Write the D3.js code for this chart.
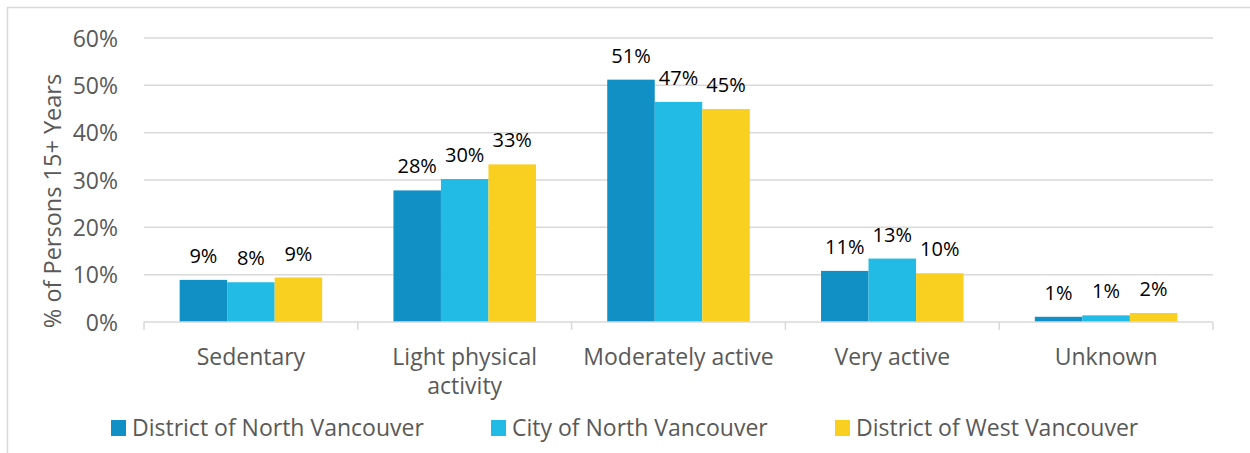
<!DOCTYPE html>
<html>
<head>
<meta charset="utf-8">
<script src="https://cdn.jsdelivr.net/npm/d3@7"></script>
<style>
  html, body { margin: 0; padding: 0; background: #fff; }
  svg { display: block; }
  text { font-family: "Open Sans", Lato, sans-serif; }
</style>
</head>
<body>
<svg id="chart" width="1250" height="453"></svg>
<script>
// Physical activity levels, share of persons aged 15+
const categories = ["Sedentary", "Light physical activity", "Moderately active", "Very active", "Unknown"];
const seriesNames = ["District of North Vancouver", "City of North Vancouver", "District of West Vancouver"];
const districtNorthVan = [8.9, 27.8, 51.2, 10.8, 1.1];
const cityNorthVan = [8.4, 30.2, 46.5, 13.4, 1.4];
const districtWestVan = [9.4, 33.3, 45.0, 10.3, 1.9];
const yTicks = [0, 10, 20, 30, 40, 50, 60];
const colors = ["#1090c5", "#22bbe5", "#f9cf20"];

const series = [districtNorthVan, cityNorthVan, districtWestVan];

const svg = d3.select("#chart");
const fontFamily = "'Open Sans', Lato, sans-serif";
const axisGrey = "#595959";

// outer frame (open at right/bottom edges)
svg.append("rect")
  .attr("x", 7.5).attr("y", 7.5)
  .attr("width", 1300).attr("height", 500)
  .attr("fill", "none").attr("stroke", "#d9d9d9").attr("stroke-width", 1.5);

const plotLeft = 144, plotRight = 1213, plotTop = 38, plotBottom = 322;

const x = d3.scaleBand().domain(categories).range([plotLeft, plotRight]).paddingInner(0).paddingOuter(0);
// Bars fill 3/(3+1.5) of each category band
const groupFrac = 3 / 4.5;
const xInner = d3.scaleBand().domain(d3.range(series.length))
  .range([0, x.bandwidth() * groupFrac]);
const y = d3.scaleLinear().domain([0, 60]).range([plotBottom, plotTop]);

// gridlines
svg.append("g")
  .selectAll("line")
  .data(yTicks.filter(t => t > 0))
  .join("line")
  .attr("x1", plotLeft).attr("x2", plotRight)
  .attr("y1", d => y(d)).attr("y2", d => y(d))
  .attr("stroke", "#d9d9d9").attr("stroke-width", 1.5);

// y axis labels
const yAxis = d3.axisLeft(y).tickValues(yTicks).tickFormat(d => d + "%").tickSize(0).tickPadding(26);
const gy = svg.append("g").attr("transform", `translate(${plotLeft},0)`).call(yAxis);
gy.select(".domain").remove();
gy.selectAll("text")
  .attr("fill", axisGrey)
  .attr("dy", "0.36em")
  .style("font-size", "23px")
  .style("font-family", fontFamily);

// y axis title
svg.append("text")
  .attr("transform", `translate(61,201) rotate(-90)`)
  .attr("text-anchor", "middle")
  .attr("fill", axisGrey)
  .style("font-size", "23.5px")
  .text("% of Persons 15+ Years");

// bars
const groups = svg.append("g").selectAll("g")
  .data(categories)
  .join("g")
  .attr("transform", c => `translate(${x(c) + x.bandwidth() * (1 - groupFrac) / 2},0)`);

groups.selectAll("rect")
  .data((c, ci) => series.map((s, si) => ({ si, v: s[ci] })))
  .join("rect")
  .attr("x", d => xInner(d.si))
  .attr("width", xInner.bandwidth())
  .attr("y", d => y(d.v))
  .attr("height", d => plotBottom - y(d.v))
  .attr("fill", d => colors[d.si]);

// value labels
groups.selectAll("text")
  .data((c, ci) => series.map((s, si) => ({ si, v: s[ci] })))
  .join("text")
  .attr("x", d => xInner(d.si) + xInner.bandwidth() / 2)
  .attr("y", d => y(d.v) - 17)
  .attr("text-anchor", "middle")
  .attr("fill", "#000")
  .style("font-size", "20px")
  .text(d => Math.round(d.v) + "%");

// x axis baseline and category ticks
const xAxisG = svg.append("g");
xAxisG.append("line")
  .attr("x1", plotLeft).attr("x2", plotRight)
  .attr("y1", plotBottom).attr("y2", plotBottom)
  .attr("stroke", "#d9d9d9").attr("stroke-width", 1.5);
const boundaries = categories.map(c => x(c)).concat([x(categories[categories.length - 1]) + x.bandwidth()]);
xAxisG.selectAll("line.tick")
  .data(boundaries)
  .join("line")
  .attr("class", "tick")
  .attr("x1", d => d).attr("x2", d => d)
  .attr("y1", plotBottom).attr("y2", plotBottom + 8)
  .attr("stroke", "#d9d9d9").attr("stroke-width", 1.5);

// category labels (wrap long names onto two lines)
const wrapLines = {
  "Light physical activity": ["Light physical", "activity"]
};
xAxisG.selectAll("text.cat")
  .data(categories)
  .join("text")
  .attr("class", "cat")
  .attr("text-anchor", "middle")
  .attr("fill", axisGrey)
  .style("font-size", "23px")
  .attr("x", c => x(c) + x.bandwidth() / 2)
  .attr("y", 365)
  .each(function (c) {
    const lines = wrapLines[c] || [c];
    d3.select(this).selectAll("tspan")
      .data(lines)
      .join("tspan")
      .attr("x", x(c) + x.bandwidth() / 2)
      .attr("dy", (d, i) => i === 0 ? 0 : 29)
      .text(d => d);
  });

// legend
const legendX = [111, 491, 835];
const legend = svg.append("g").selectAll("g")
  .data(seriesNames)
  .join("g")
  .attr("transform", (d, i) => `translate(${legendX[i]},420)`);
legend.append("rect")
  .attr("width", 15).attr("height", 16)
  .attr("fill", (d, i) => colors[i]);
legend.append("text")
  .attr("x", 21).attr("y", 16)
  .attr("fill", axisGrey)
  .style("font-size", "23px")
  .text(d => d);
</script>
</body>
</html>
